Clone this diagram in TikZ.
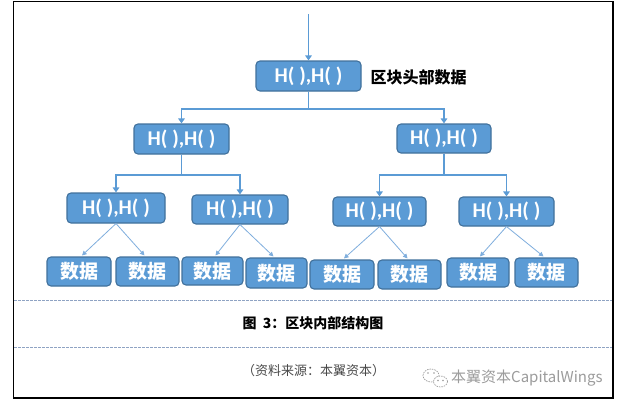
\documentclass[tikz,border=0pt]{standalone}
\usepackage{fontspec}
\setmainfont{Carlito}
\newfontfamily\cjk{Noto Sans CJK SC}
\usetikzlibrary{arrows.meta}
\definecolor{nodeblue}{HTML}{5B9BD5}
\definecolor{nodeborder}{HTML}{41719C}
\definecolor{lineblue}{HTML}{5B9BD5}
\definecolor{lineblue2}{HTML}{7FAEDD}
\definecolor{dashblue}{HTML}{8FA3C3}
\definecolor{srcgray}{HTML}{4A4A4A}
\definecolor{wmgray}{HTML}{9C9C9C}
\begin{document}
\begin{tikzpicture}[x=1pt,y=-1pt,
  hbox/.style={draw=nodeborder, fill=nodeblue, line width=1.1pt, rounded corners=4pt,
    text=white, inner sep=0pt, minimum height=30pt},
  hnode/.style={hbox, font=\fontsize{21}{21}\selectfont\bfseries},
  dnode/.style={hbox, font=\cjk\bfseries\fontsize{19}{19}\selectfont, minimum height=29pt},
  bus/.style={draw=lineblue, line width=1.9pt, -{Triangle[length=5pt,width=6.5pt]}},
  leafarrow/.style={draw=lineblue2, line width=0.8pt, -{Triangle[length=4.5pt,width=4.5pt]}},
  sepline/.style={draw=dashblue, line width=0.7pt, dash pattern=on 2.5pt off 1.5pt},
  frame/.style={draw=black, line width=1.3pt}]
\useasboundingbox (0,0) rectangle (622,407);
\fill[white] (0,0) rectangle (622,407);
% frame
\draw[frame] (13.5,1.5) rectangle (613,398);
\draw[sepline] (14,300) -- (612,300);
\draw[sepline] (14,347.5) -- (612,347.5);
% nodes
\node[hnode, minimum width=105pt] (root) at (308.5,76) {H( ),H( )};
\node[anchor=west, font=\cjk\bfseries\fontsize{16}{16}\selectfont] (hdr) at (367,77) {区块头部数据};
\node[hnode, minimum width=95pt] (l2a) at (181.5,139) {H( ),H( )};
\node[hnode, minimum width=94pt, minimum height=29pt] (l2b) at (444,138.5) {H( ),H( )};
\node[hnode, minimum width=98pt] (l3a) at (116,208) {H( ),H( )};
\node[hnode, minimum width=96pt, minimum height=29pt] (l3b) at (240,209.5) {H( ),H( )};
\node[hnode, minimum width=93pt, minimum height=29pt] (l3c) at (379.5,211.5) {H( ),H( )};
\node[hnode, minimum width=95pt, minimum height=29pt] (l3d) at (506.5,211.5) {H( ),H( )};
\node[dnode, minimum width=64pt] (d1) at (79,271.5) {数据};
\node[dnode, minimum width=63pt] (d2) at (147.5,271.5) {数据};
\node[dnode, minimum width=61pt, minimum height=28pt] (d3) at (212.5,271) {数据};
\node[dnode, minimum width=61pt, minimum height=30pt] (d4) at (276.5,273) {数据};
\node[dnode, minimum width=64pt] (d5) at (342,274.5) {数据};
\node[dnode, minimum width=63pt] (d6) at (409.5,274.5) {数据};
\node[dnode, minimum width=62pt] (d7) at (478,272.5) {数据};
\node[dnode, minimum width=63pt] (d8) at (546.5,272.5) {数据};
% connectors
\coordinate (in) at (308.5,14);
\draw[bus] (in) -- (root.north);
\draw[bus] (root.south) -- ++(0,17) -| (l2a.north);
\draw[bus] (root.south) -- ++(0,17) -| (l2b.north);
\draw[bus] (l2a.south) -- ++(0,20) -| (l3a.north);
\draw[bus] (l2a.south) -- ++(0,20) -| (l3b.north);
\draw[bus] (l2b.south) -- ++(0,21) -| (l3c.north);
\draw[bus] (l2b.south) -- ++(0,21) -| (l3d.north);
\draw[leafarrow] (l3a.south) -- ([xshift=3pt,yshift=1pt]d1.north);
\draw[leafarrow] (l3a.south) -- ([xshift=-3pt,yshift=1pt]d2.north);
\draw[leafarrow] (l3b.south) -- ([xshift=3pt,yshift=1pt]d3.north);
\draw[leafarrow] (l3b.south) -- ([xshift=-3pt,yshift=1pt]d4.north);
\draw[leafarrow] (l3c.south) -- ([xshift=2pt,yshift=1pt]d5.north);
\draw[leafarrow] (l3c.south) -- ([xshift=-2pt,yshift=1pt]d6.north);
\draw[leafarrow] (l3d.south) -- ([xshift=2pt,yshift=1pt]d7.north);
\draw[leafarrow] (l3d.south) -- ([xshift=-3pt,yshift=1pt]d8.north);
% captions
\node[font=\cjk\bfseries\fontsize{14}{14}\selectfont] (cap) at (313,323) {图 \ 3：区块内部结构图};
\node[font=\cjk\fontsize{13}{13}\selectfont, text=srcgray] (src) at (313.5,371) {（资料来源：本翼资本）};
% watermark
\draw[wmgray, line width=0.7pt, dash pattern=on 1.5pt off 1pt] (431,375.5) ellipse (8 and 6.5);
\draw[wmgray, line width=0.7pt, fill=white, dash pattern=on 1.5pt off 1pt] (440.5,381.5) ellipse (7 and 5.5);
\fill[wmgray] (428,373) circle (0.9) (434,373) circle (0.9) (438,380.5) circle (0.8) (443,380.5) circle (0.8);
\node[anchor=west, font=\cjk\fontsize{15}{15}\selectfont, text=wmgray, inner sep=0pt] (wm) at (451,378) {本翼资本CapitalWings};
\end{tikzpicture}
\end{document}
